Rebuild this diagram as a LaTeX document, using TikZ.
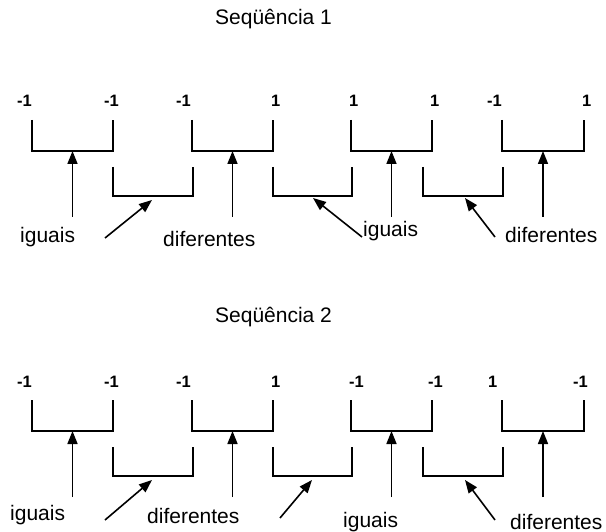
\documentclass[tikz,border=0pt]{standalone}
\usepackage{fontspec}
\setmainfont{Liberation Sans}
\usetikzlibrary{arrows.meta}
\begin{document}
\begin{tikzpicture}[x=1pt,y=-1pt,
  brk/.style={line width=1.7pt},
  arr/.style={line width=1.6pt,-{Triangle[length=13pt,width=10pt]}},
  num/.style={anchor=base west,inner sep=0pt,font=\fontsize{16.5}{18}\selectfont\bfseries},
  lbl/.style={anchor=base west,inner sep=0pt,font=\fontsize{21}{24}\selectfont},
]
\useasboundingbox (0,0) rectangle (606,532);

% ---------- Sequencia 1 ----------
\node[lbl] (t1) at (215,25) {Seqüência 1};

\node[num] (a1) at (17,107) {-1};
\node[num] (a2) at (104,107) {-1};
\node[num] (a3) at (176,107) {-1};
\node[num] (a4) at (271,107) {1};
\node[num] (a5) at (349,107) {1};
\node[num] (a6) at (430,107) {1};
\node[num] (a7) at (487,107) {-1};
\node[num] (a8) at (582,107) {1};

\foreach \l/\r in {32/113,192/273,351/432,502/584}
  \draw[brk] (\l,120) -- (\l,151) -- (\r,151) -- (\r,120);
\foreach \l/\r in {113/193,273/352,423/503}
  \draw[brk] (\l,167) -- (\l,196) -- (\r,196) -- (\r,167);

\coordinate (u11) at (72.5,151);  \coordinate (v11) at (72.5,217);
\coordinate (u12) at (232.5,151); \coordinate (v12) at (232.5,217);
\coordinate (u13) at (391.5,151); \coordinate (v13) at (391.5,217);
\coordinate (u14) at (543,151);   \coordinate (v14) at (543,217);
\coordinate (l11) at (152,200);   \coordinate (m11) at (105,238);
\coordinate (l12) at (313,198);   \coordinate (m12) at (362,237);
\coordinate (l13) at (465,198);   \coordinate (m13) at (495,237);

\foreach \i in {1,...,4} \draw[arr] (v1\i) -- (u1\i);
\foreach \i in {1,2,3} \draw[arr] (m1\i) -- (l1\i);

\node[lbl] (g11) at (20,243) {iguais};
\node[lbl] (d11) at (163,247) {diferentes};
\node[lbl] (g12) at (363,237) {iguais};
\node[lbl] (d12) at (505,243) {diferentes};

% ---------- Sequencia 2 ----------
\node[lbl] (t2) at (215,323) {Seqüência 2};

\node[num] (b1) at (17,387) {-1};
\node[num] (b2) at (104,387) {-1};
\node[num] (b3) at (176,387) {-1};
\node[num] (b4) at (271,387) {1};
\node[num] (b5) at (349,387) {-1};
\node[num] (b6) at (428,387) {-1};
\node[num] (b7) at (488,387) {1};
\node[num] (b8) at (573,387) {-1};

\foreach \l/\r in {32/113,192/273,351/432,502/584}
  \draw[brk] (\l,400) -- (\l,431) -- (\r,431) -- (\r,400);
\foreach \l/\r in {113/193,273/352,423/503}
  \draw[brk] (\l,447) -- (\l,476) -- (\r,476) -- (\r,447);

\coordinate (u21) at (72.5,431);  \coordinate (v21) at (72.5,497);
\coordinate (u22) at (232.5,431); \coordinate (v22) at (232.5,497);
\coordinate (u23) at (391.5,431); \coordinate (v23) at (391.5,497);
\coordinate (u24) at (543,431);   \coordinate (v24) at (543,497);
\coordinate (l21) at (152,480);   \coordinate (m21) at (105,520);
\coordinate (l22) at (312,480);   \coordinate (m22) at (280,518);
\coordinate (l23) at (465,480);   \coordinate (m23) at (495,520);

\foreach \i in {1,...,4} \draw[arr] (v2\i) -- (u2\i);
\foreach \i in {1,2,3} \draw[arr] (m2\i) -- (l2\i);

\node[lbl] (g21) at (10,520) {iguais};
\node[lbl] (d21) at (147,523) {diferentes};
\node[lbl] (g22) at (343,527) {iguais};
\node[lbl] (d22) at (510,529) {diferentes};
\end{tikzpicture}
\end{document}
